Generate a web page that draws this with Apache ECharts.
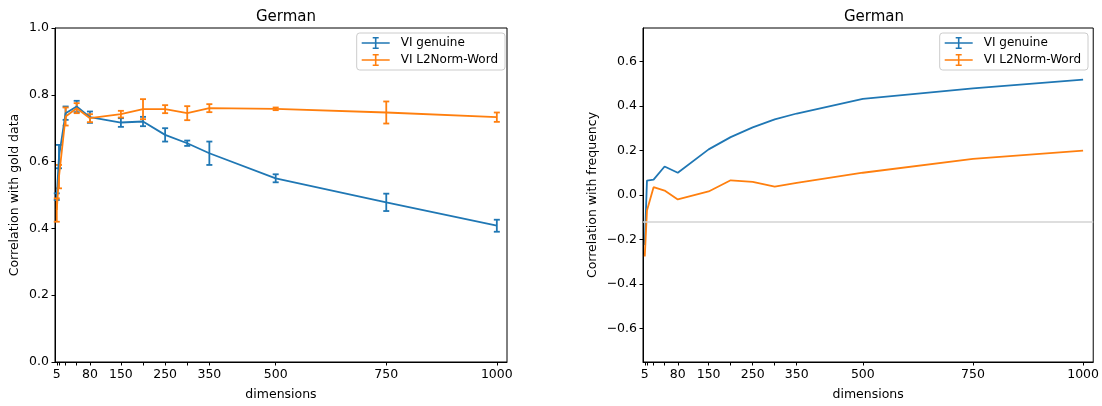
<!DOCTYPE html>
<html>
<head>
<meta charset="utf-8">
<script src="https://cdn.jsdelivr.net/npm/echarts@6/dist/echarts.min.js"></script>
<style>
html,body{margin:0;padding:0;background:#fff;}
#chart{width:1102px;height:406px;}
</style>
</head>
<body>
<div id="chart"></div>
<script>
// ---- data ----
const dims = [5, 10, 25, 50, 80, 150, 200, 250, 300, 350, 500, 750, 1000];
const xTickLabels = [5, 80, 150, 250, 350, 500, 750, 1000];
const leftYTicks = [0, 0.2, 0.4, 0.6, 0.8, 1.0];
const rightYTicks = [-0.6, -0.4, -0.2, 0, 0.2, 0.4, 0.6];

const goldGenuine    = [0.495, 0.615, 0.745, 0.765, 0.733, 0.717, 0.72, 0.68, 0.655, 0.625, 0.55, 0.478, 0.408];
const goldGenuineErr = [0.01, 0.035, 0.02, 0.017, 0.017, 0.013, 0.014, 0.02, 0.008, 0.035, 0.012, 0.026, 0.018];
const goldL2         = [0.455, 0.555, 0.735, 0.76, 0.73, 0.742, 0.757, 0.757, 0.745, 0.76, 0.758, 0.747, 0.733];
const goldL2Err      = [0.035, 0.035, 0.027, 0.015, 0.012, 0.01, 0.03, 0.012, 0.021, 0.012, 0.004, 0.033, 0.014];

const freqGenuine = [-0.225, 0.065, 0.069, 0.128, 0.10, 0.205, 0.26, 0.304, 0.34, 0.366, 0.432, 0.479, 0.518];
const freqL2      = [-0.276, -0.07, 0.035, 0.02, -0.02, 0.016, 0.066, 0.059, 0.038, 0.054, 0.10, 0.162, 0.199];
const freqBaseline = -0.115;

const names = ['VI genuine', 'VI L2Norm-Word'];
const titles = ['German', 'German'];
const yNames = ['Correlation with gold data', 'Correlation with frequency'];
const xName = 'dimensions';

// ---- styling ----
const BLUE = '#1f77b4', ORANGE = '#ff7f0e';
const FONT = 'DejaVu Sans';
const FS = 12.5;
const LW = 1.8;
const legendIcon = 'path://M0,6.2H28V7.8H0Z M13.2,1H14.8V13H13.2Z M11,1H17V2.4H11Z M11,11.6H17V13H11Z';

function errBars(name, vals, errs, color, xi, yi) {
  return {
    type: 'custom', name: name, xAxisIndex: xi, yAxisIndex: yi,
    itemStyle: {color: color}, silent: true, z: 3,
    data: dims.map((d, i) => [d, vals[i], errs[i]]),
    renderItem: function (params, api) {
      const x = api.value(0), y = api.value(1), e = api.value(2);
      const t = api.coord([x, y + e]), b = api.coord([x, y - e]);
      const st = {stroke: color, lineWidth: LW};
      const hw = 3;
      return {type: 'group', children: [
        {type: 'line', shape: {x1: t[0], y1: t[1], x2: b[0], y2: b[1]}, style: st},
        {type: 'line', shape: {x1: t[0]-hw, y1: t[1], x2: t[0]+hw, y2: t[1]}, style: st},
        {type: 'line', shape: {x1: b[0]-hw, y1: b[1], x2: b[0]+hw, y2: b[1]}, style: st}
      ]};
    }
  };
}
function lineS(name, vals, color, xi, yi, extra) {
  return Object.assign({
    type: 'line', name: name, xAxisIndex: xi, yAxisIndex: yi,
    data: dims.map((d, i) => [d, vals[i]]),
    showSymbol: false, symbol: 'none', silent: true, z: 4,
    itemStyle: {color: color},
    lineStyle: {color: color, width: LW}
  }, extra || {});
}
function xAxis(gi) {
  return {
    type: 'value', gridIndex: gi, min: 1, max: 1023,
    name: xName, nameLocation: 'middle', nameGap: 26,
    nameTextStyle: {fontFamily: FONT, fontSize: FS, color: '#000'},
    splitLine: {show: false},
    axisLine: {show: true, onZero: false, lineStyle: {color: '#000', width: 1}},
    axisTick: {show: true, length: 3.5, lineStyle: {color: '#000'}, customValues: dims},
    axisLabel: {customValues: xTickLabels, fontFamily: FONT, fontSize: FS, color: '#000', margin: 6,
      formatter: v => String(v)}
  };
}
function yAxis(gi, min, max, ticks, name, gap) {
  return {
    type: 'value', gridIndex: gi, min: min, max: max,
    name: name, nameLocation: 'middle', nameGap: gap,
    nameTextStyle: {fontFamily: FONT, fontSize: FS, color: '#000'},
    splitLine: {show: false},
    axisLine: {show: true, onZero: false, lineStyle: {color: '#000', width: 1}},
    axisTick: {show: true, length: 3.5, lineStyle: {color: '#000'}, customValues: ticks},
    axisLabel: {customValues: ticks, fontFamily: FONT, fontSize: FS, color: '#000', margin: 6,
      formatter: v => v.toFixed(1).replace('-', '\u2212')}
  };
}
function legend(pos) {
  return Object.assign({
    orient: 'vertical', top: 33,
    data: names.map(n => ({name: n, icon: legendIcon})),
    itemWidth: 28, itemHeight: 14, itemGap: 5,
    padding: [4, 7, 4, 5],
    borderColor: '#cccccc', borderWidth: 1, borderRadius: 3,
    backgroundColor: 'rgba(255,255,255,0.8)',
    textStyle: {fontFamily: FONT, fontSize: 12, color: '#000', padding: [0, 0, 0, 6]},
    selectedMode: false
  }, pos);
}

const chart = echarts.init(document.getElementById('chart'), null, {renderer: 'canvas'});
chart.setOption({
  animation: false,
  backgroundColor: '#fff',
  title: [
    {text: titles[0], left: 281, top: 5, textAlign: 'center', textStyle: {fontFamily: FONT, fontSize: 15, fontWeight: 'normal', color: '#000'}},
    {text: titles[1], left: 869, top: 5, textAlign: 'center', textStyle: {fontFamily: FONT, fontSize: 15, fontWeight: 'normal', color: '#000'}}
  ],
  grid: [
    {left: 55, top: 28, width: 452, height: 336, show: true, borderColor: '#000', borderWidth: 1, backgroundColor: 'transparent'},
    {left: 643, top: 28, width: 452, height: 336, show: true, borderColor: '#000', borderWidth: 1, backgroundColor: 'transparent'}
  ],
  xAxis: [xAxis(0), xAxis(1)],
  yAxis: [
    yAxis(0, 0, 1, leftYTicks, yNames[0], 34),
    yAxis(1, -0.75, 0.75, rightYTicks, yNames[1], 44)
  ],
  legend: [legend({right: 597}), legend({right: 14})],
  series: [
    lineS(names[0], goldGenuine, BLUE, 0, 0),
    errBars(names[0], goldGenuine, goldGenuineErr, BLUE, 0, 0),
    lineS(names[1], goldL2, ORANGE, 0, 0),
    errBars(names[1], goldL2, goldL2Err, ORANGE, 0, 0),
    lineS(names[0], freqGenuine, BLUE, 1, 1, {
      markLine: {silent: true, symbol: ['none', 'none'], label: {show: false},
        lineStyle: {color: '#d3d3d3', width: 1.5, type: 'solid'},
        data: [{yAxis: freqBaseline}]}
    }),
    lineS(names[1], freqL2, ORANGE, 1, 1)
  ]
});
</script>
</body>
</html>
